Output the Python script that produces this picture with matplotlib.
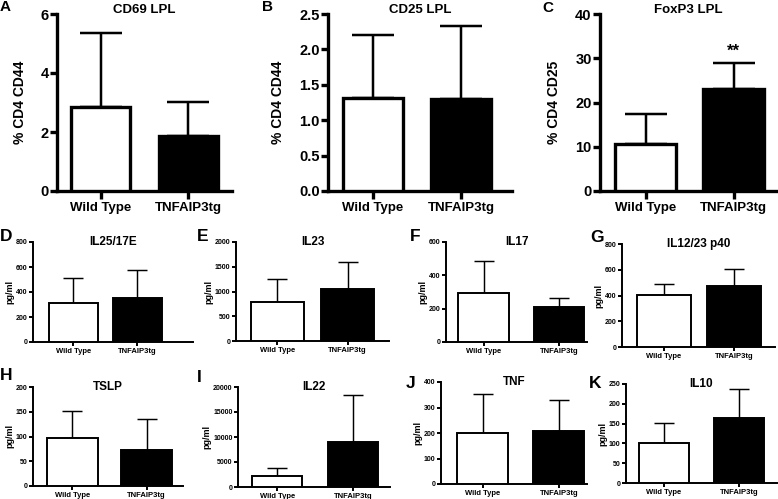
import numpy as np
import matplotlib
matplotlib.use("Agg")
import matplotlib.pyplot as plt

plt.rcParams['font.family'] = ['Liberation Sans', 'DejaVu Sans']
plt.rcParams['font.weight'] = 'bold'

# data (mean and upper error bar length)
groups = ["Wild Type", "TNFAIP3tg"]
letters = ["A", "B", "C", "D", "E", "F", "G", "H", "I", "J", "K"]
titles = ["CD69 LPL", "CD25 LPL", "FoxP3 LPL", "IL25/17E", "IL23", "IL17",
          "IL12/23 p40", "TSLP", "IL22", "TNF", "IL10"]
ylabels = ["% CD4 CD44", "% CD4 CD44", "% CD4 CD25"] + ["pg/ml"] * 8
wt_mean = [2.85, 1.31, 10.7, 314, 797, 296, 405, 97, 2250, 200, 101]
wt_err = [2.49, 0.89, 6.6, 196, 460, 191, 82, 55, 1500, 153, 50]
tg_mean = [1.87, 1.30, 23.0, 349, 1047, 211, 470, 72, 9050, 206, 163]
tg_err = [1.15, 1.025, 5.9, 228, 541, 51, 137, 63, 9400, 124, 74]
ymax = [6, 2.5, 40, 800, 2000, 600, 800, 200, 20000, 400, 250]
ystep = [2, 0.5, 10, 200, 500, 200, 200, 50, 5000, 100, 50]
stars = ["", "", "**", "", "", "", "", "", "", "", ""]

W, H = 778, 499
# axes boxes in pixels: left, right, top, bottom ; x-limits ; bar width
boxes = [(57, 232, 14, 191), (328, 512, 14, 191), (600, 777, 14, 191),
         (33, 193, 242, 342), (236, 389, 242, 341), (446, 587, 242, 342),
         (622, 775, 244, 347), (33, 183, 387, 486), (238, 390, 387, 487),
         (441, 587, 382, 484), (626, 777, 384, 483)]
xlims = [(-0.5, 1.5), (-0.51, 1.58), (-0.52, 1.49), (-0.63, 1.87),
         (-0.59, 1.59), (-0.5, 1.37), (-0.6, 1.59), (-0.53, 1.49),
         (-0.52, 1.49), (-0.55, 1.37), (-0.51, 1.51)]
widths = [0.67, 0.68, 0.69, 0.77, 0.75, 0.67, 0.78, 0.68, 0.66, 0.67, 0.67]
letter_pos = [(0, 7), (262, 7), (542, 8), (0, 237), (197, 237), (410, 237),
              (590, 238), (0, 375), (197, 377), (406, 384), (589, 384)]

fig = plt.figure(figsize=(W / 100, H / 100), dpi=100)

for i in range(11):
    l, r, t, b = boxes[i]
    ax = fig.add_axes([l / W, 1 - b / H, (r - l) / W, (b - t) / H])
    big = i < 3
    lw = 2.4 if big else 1.4
    x = np.arange(2)
    means = [wt_mean[i], tg_mean[i]]
    errs = [wt_err[i], tg_err[i]]
    ax.bar(x, means, width=widths[i], color=['white', 'black'],
           edgecolor='black', linewidth=lw, zorder=3)
    cap = 15 if big else 7
    ax.errorbar(x, means, yerr=[[0, 0], errs], fmt='none', ecolor='black',
                elinewidth=lw * 0.75, capsize=cap, capthick=lw * 0.75, zorder=2)
    ax.set_xlim(*xlims[i])
    ax.set_ylim(0, ymax[i])
    ax.set_yticks(np.arange(0, ymax[i] + ystep[i] / 2, ystep[i]))
    if ystep[i] < 1:
        ax.set_yticklabels(["%.1f" % v for v in ax.get_yticks()])
    ax.set_xticks(x)
    ax.set_xticklabels(groups)
    for s in ['top', 'right']:
        ax.spines[s].set_visible(False)
    for s in ['left', 'bottom']:
        ax.spines[s].set_linewidth(lw)
    if big:
        ax.tick_params(axis='y', labelsize=10.5, width=lw, length=5, pad=1)
        ax.tick_params(axis='x', labelsize=9.5, width=lw, length=6, pad=2)
        ax.set_ylabel(ylabels[i], fontsize=10, fontweight='bold', labelpad=10)
        ax.text(0.5, 1.02, titles[i], transform=ax.transAxes, ha='center',
                va='center', fontsize=9.5, fontweight='bold')
    else:
        ax.tick_params(axis='y', labelsize=5, width=lw, length=3, pad=1)
        ax.tick_params(axis='x', labelsize=5.5, width=lw, length=3, pad=1.5)
        ax.set_ylabel(ylabels[i], fontsize=6.5, fontweight='bold', labelpad=1)
        ax.text(0.5, 1.0, titles[i], transform=ax.transAxes, ha='center',
                va='center', fontsize=8.5, fontweight='bold')
    if stars[i]:
        ax.text(1, tg_mean[i] + tg_err[i] + ymax[i] * 0.025, stars[i],
                ha='center', va='bottom', fontsize=12, fontweight='bold')
    fx, fy = letter_pos[i]
    fig.text(fx / W, 1 - fy / H, letters[i], ha='left', va='center',
             fontsize=11 if big else 12.5, fontweight='bold')

fig.savefig("out.png", dpi=100)
